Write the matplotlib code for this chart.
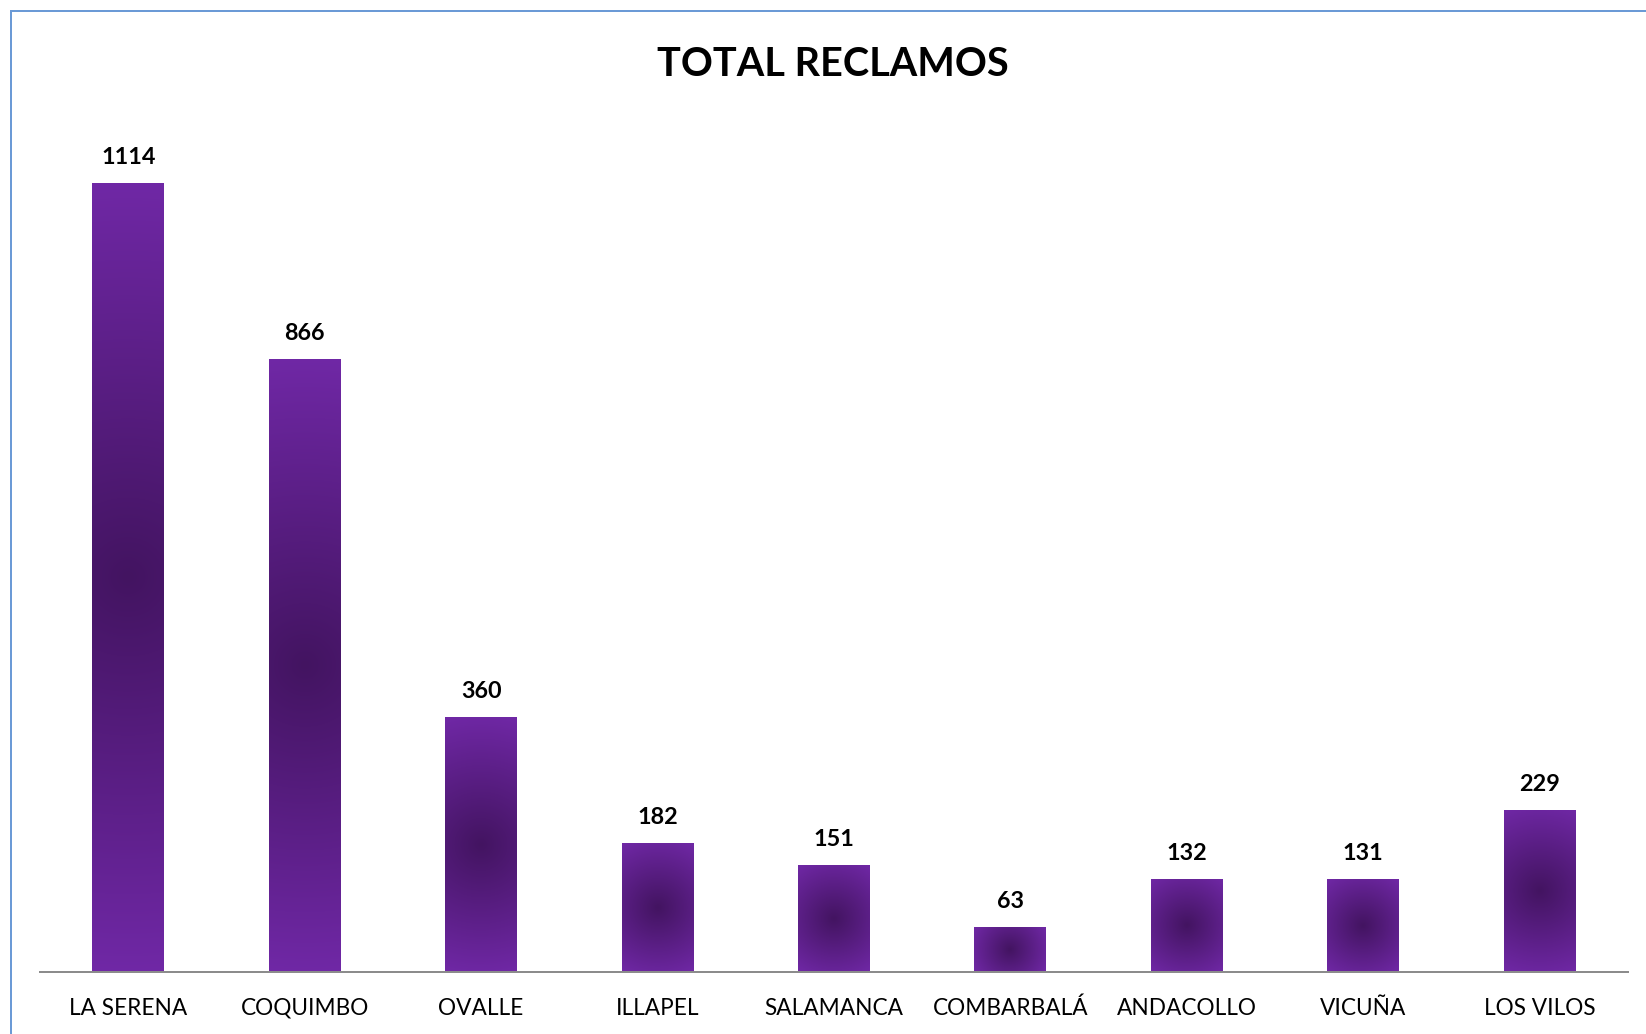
import numpy as np
import matplotlib
matplotlib.use("Agg")
import matplotlib.pyplot as plt
from matplotlib.patches import Rectangle
from matplotlib.colors import to_rgb

categories = ["LA SERENA", "COQUIMBO", "OVALLE", "ILLAPEL", "SALAMANCA",
              "COMBARBALÁ", "ANDACOLLO", "VICUÑA", "LOS VILOS"]
values = [1114, 866, 360, 182, 151, 63, 132, 131, 229]
title = "TOTAL RECLAMOS"

W, H = 1646, 1034
DPI = 100
FONT = "Lato"
light = np.array(to_rgb("#7028A6"))
dark = np.array(to_rgb("#431461"))

fig = plt.figure(figsize=(W / DPI, H / DPI), dpi=DPI)
fig.patch.set_facecolor("white")
ax = fig.add_axes([40 / W, (H - 972) / H, (1628 - 40) / W, (972 - 122) / H])
ax.set_xlim(-0.5, len(categories) - 0.5)
ax.set_ylim(0, 1200)

x = np.arange(len(categories))
bars = ax.bar(x, values, width=0.408, color="none", edgecolor="none", zorder=2)

fig.canvas.draw()
for b in bars:
    bb = b.get_window_extent()
    wpx, hpx = max(int(round(bb.width)), 2), max(int(round(bb.height)), 2)
    yy, xx = np.mgrid[0:hpx, 0:wpx]
    cx, cy = (wpx - 1) / 2, (hpx - 1) / 2
    r = np.hypot(xx - cx, yy - cy)
    R = np.hypot(wpx / 2, hpx / 2)
    t = np.clip(r / R, 0, 1)[..., None]
    img = dark + (light - dark) * t
    x0, y0 = b.get_x(), b.get_y()
    im = ax.imshow(img, extent=[x0, x0 + b.get_width(), y0, y0 + b.get_height()],
                   aspect="auto", origin="lower", zorder=2, interpolation="bilinear")
    im.set_clip_path(b)
    ax.annotate(f"{b.get_height():.0f}", xy=(b.get_x() + b.get_width() / 2, b.get_height()),
                xytext=(0, 19 * 72 / DPI), textcoords="offset points",
                ha="center", va="baseline", fontsize=16.8, fontweight="bold",
                family=FONT, color="black")

ax.set_xlim(-0.5, len(categories) - 0.5)
ax.set_ylim(0, 1200)
for s in ["top", "left", "right"]:
    ax.spines[s].set_visible(False)
ax.spines["bottom"].set_color("#8C8C8C")
ax.spines["bottom"].set_linewidth(2 * 72 / DPI)
ax.spines["bottom"].set_zorder(3)
ax.set_yticks([])
ax.set_xticks(x)
ax.set_xticklabels(categories, fontsize=16.3, family=FONT, color="black")
ax.tick_params(axis="x", length=0, pad=43 * 72 / DPI)
for lbl in ax.get_xticklabels():
    lbl.set_va("baseline")

fig.text(833 / W, (H - 76) / H, title, ha="center", va="baseline",
         fontsize=28.5, fontweight="bold", family=FONT, color="black")

fig.patches.append(Rectangle((10.5 / W, -0.1), 1.2, (H - 10.5) / H + 0.1,
                             transform=fig.transFigure, fill=False,
                             edgecolor="#6B9AD6", linewidth=2 * 72 / DPI))

fig.savefig("out.png", dpi=DPI, facecolor="white")
